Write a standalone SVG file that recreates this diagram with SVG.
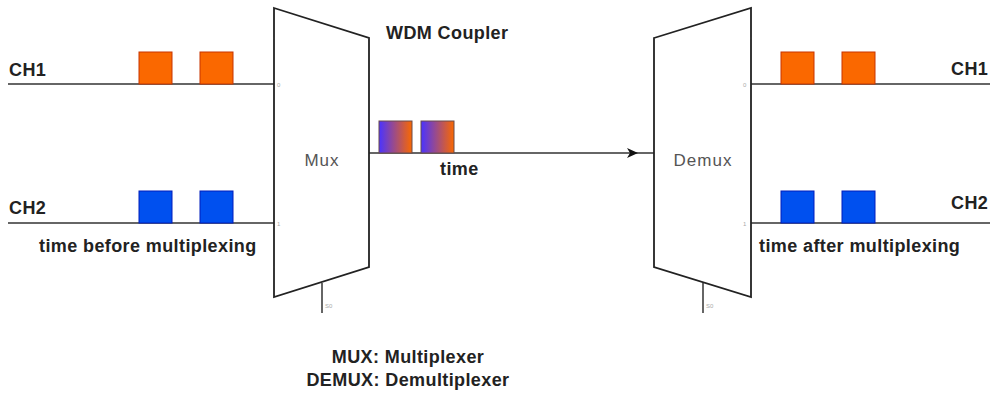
<svg xmlns="http://www.w3.org/2000/svg" width="990" height="394" viewBox="0 0 990 394">
<defs>
<style>
.t{font-family:"Liberation Sans",Arial,sans-serif;font-weight:bold;font-size:18px;letter-spacing:0.4px;fill:#222}
.n{font-family:"Liberation Sans",Arial,sans-serif;font-size:17px;letter-spacing:1px;fill:#555}
.p{font-family:"Liberation Sans",Arial,sans-serif;font-size:6px;fill:#aaa}
.ln{stroke:#333;stroke-width:1.5;fill:none}
.sh{stroke:#222;stroke-width:1.8;fill:#fff}
.o{fill:#fa6800;stroke:#c73500;stroke-width:1}
.b{fill:#0050ef;stroke:#001dbc;stroke-width:1}
.g{fill:url(#grad);stroke:#6b4a4a;stroke-width:1}
</style>
<linearGradient id="grad" x1="0" y1="0" x2="1" y2="0">
<stop offset="0" stop-color="#4a33ff"/>
<stop offset="1" stop-color="#fa6800"/>
</linearGradient>
<marker id="arr" markerWidth="12" markerHeight="10" refX="11" refY="5" orient="auto" markerUnits="userSpaceOnUse">
<path d="M0,0 L11,5 L0,10 L3,5 Z" fill="#111"/>
</marker>
</defs>
<rect width="990" height="394" fill="#fff"/>
<g id="connectors">
<line class="ln" x1="8" y1="84" x2="274" y2="84"/>
<line class="ln" x1="8" y1="223" x2="274" y2="223"/>
<line class="ln" x1="369" y1="153" x2="638" y2="153" marker-end="url(#arr)"/>
<line class="ln" x1="638" y1="153" x2="654" y2="153"/>
<line class="ln" x1="751" y1="84" x2="990" y2="84"/>
<line class="ln" x1="751" y1="223" x2="990" y2="223"/>
<line class="ln" x1="322" y1="283" x2="322" y2="313"/>
<line class="ln" x1="703" y1="283" x2="703" y2="313"/>
</g>
<g id="mux">
<polygon class="sh" points="274,8 369,38 369,267 274,297"/>
<text class="n" x="322" y="166" text-anchor="middle">Mux</text>
<text class="p" x="277" y="87">0</text>
<text class="p" x="277" y="226">1</text>
<text class="p" x="325" y="308">S0</text>
</g>
<g id="demux">
<polygon class="sh" points="654,38 751,8 751,297 654,267"/>
<text class="n" x="703" y="166" text-anchor="middle">Demux</text>
<text class="p" x="743" y="87">0</text>
<text class="p" x="743" y="226">1</text>
<text class="p" x="706" y="308">S0</text>
</g>
<g id="ch1-in">
<text class="t" x="9" y="76">CH1</text>
<rect class="o" x="139" y="52" width="33" height="32"/>
<rect class="o" x="200" y="52" width="33" height="32"/>
</g>
<g id="ch2-in">
<text class="t" x="9" y="214">CH2</text>
<rect class="b" x="139" y="191" width="33" height="32"/>
<rect class="b" x="200" y="191" width="33" height="32"/>
<text class="t" x="39" y="252">time before multiplexing</text>
</g>
<g id="multiplexed">
<rect class="g" x="379" y="121" width="33" height="32"/>
<rect class="g" x="421" y="121" width="33" height="32"/>
<text class="t" x="440" y="175">time</text>
</g>
<g id="wdm-label">
<text class="t" x="386" y="39">WDM Coupler</text>
</g>
<g id="ch1-out">
<rect class="o" x="781" y="52" width="33" height="32"/>
<rect class="o" x="842" y="52" width="33" height="32"/>
<text class="t" x="951" y="75">CH1</text>
</g>
<g id="ch2-out">
<rect class="b" x="781" y="191" width="33" height="32"/>
<rect class="b" x="842" y="191" width="33" height="32"/>
<text class="t" x="951" y="209">CH2</text>
<text class="t" x="759" y="252">time after multiplexing</text>
</g>
<g id="legend">
<text class="t" x="408" y="363" text-anchor="middle">MUX: Multiplexer</text>
<text class="t" x="408" y="386" text-anchor="middle">DEMUX: Demultiplexer</text>
</g>
</svg>
